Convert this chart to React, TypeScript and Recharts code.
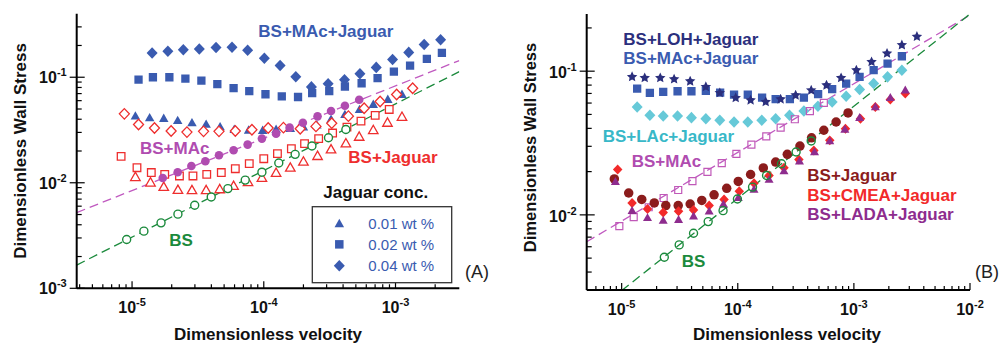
import React from 'react';
import { ComposedChart, Scatter, Line, XAxis, YAxis, Legend } from 'recharts';

type Pt = [number, number];

// ---------- Panel A data ----------
const aJag01: Pt[] = [[1.06e-5,0.0435],[1.36e-5,0.0419],[1.74e-5,0.0413],[2.22e-5,0.0395],[2.85e-5,0.0376],[3.65e-5,0.0363],[4.66e-5,0.0344],[5.97e-5,0.0325],[7.67e-5,0.032],[9.8e-5,0.0318],[1.24e-4,0.0325],[1.59e-4,0.0332],[2.0e-4,0.0342],[2.53e-4,0.0357],[3.24e-4,0.0405],[4.13e-4,0.045],[5.33e-4,0.0502],[6.78e-4,0.0561],[8.74e-4,0.0625],[1.12e-3,0.0697]];
const aJag02: Pt[] = [[1.12e-5,0.095],[1.44e-5,0.1],[1.92e-5,0.1],[2.54e-5,0.097],[3.36e-5,0.093],[4.44e-5,0.086],[5.9e-5,0.079],[7.76e-5,0.074],[1.03e-4,0.069],[1.37e-4,0.066],[1.82e-4,0.065],[2.33e-4,0.0706],[3.14e-4,0.074],[4.13e-4,0.0817],[5.53e-4,0.0877],[7.31e-4,0.098],[9.72e-4,0.113],[1.29e-3,0.129],[1.73e-3,0.149],[2.25e-3,0.17]];
const aJag04: Pt[] = [[1.42e-5,0.17],[1.87e-5,0.176],[2.45e-5,0.182],[3.24e-5,0.185],[4.34e-5,0.191],[5.74e-5,0.192],[7.54e-5,0.18],[1.01e-4,0.151],[1.33e-4,0.129],[1.75e-4,0.101],[2.3e-4,0.081],[3.08e-4,0.0866],[4.1e-4,0.0945],[5.37e-4,0.108],[7.14e-4,0.124],[9.5e-4,0.147],[1.26e-3,0.172],[1.65e-3,0.204],[2.2e-3,0.227]];
const aBJ01: Pt[] = [[1.06e-5,0.0115],[1.38e-5,0.0102],[1.74e-5,0.00927],[2.23e-5,0.00868],[2.85e-5,0.00863],[3.65e-5,0.00863],[4.63e-5,0.00881],[5.9e-5,0.00947],[7.59e-5,0.0103],[9.68e-5,0.0113],[1.24e-4,0.0126],[1.59e-4,0.0141],[2.0e-4,0.0161],[2.56e-4,0.0182],[3.24e-4,0.021],[4.2e-4,0.024],[5.3e-4,0.0277],[6.78e-4,0.032],[8.69e-4,0.0376],[1.12e-3,0.0428]];
const aBJ02: Pt[] = [[8.26e-6,0.0178],[1.09e-5,0.0139],[1.4e-5,0.0125],[1.77e-5,0.012],[2.29e-5,0.0116],[2.9e-5,0.0116],[3.69e-5,0.012],[4.76e-5,0.0125],[6.08e-5,0.0136],[7.76e-5,0.0152],[1.0e-4,0.0169],[1.27e-4,0.0189],[1.62e-4,0.021],[2.04e-4,0.0235],[2.61e-4,0.0262],[3.33e-4,0.0296],[4.28e-4,0.0337],[5.47e-4,0.0384],[7.01e-4,0.0435],[8.96e-4,0.0495]];
const aBJ04: Pt[] = [[8.74e-6,0.045],[1.12e-5,0.0357],[1.48e-5,0.033],[1.98e-5,0.0309],[2.61e-5,0.0302],[3.49e-5,0.0307],[4.57e-5,0.0307],[6.08e-5,0.0309],[8.13e-5,0.0318],[1.08e-4,0.033],[1.41e-4,0.0333],[1.89e-4,0.0325],[2.49e-4,0.0342],[3.28e-4,0.0367],[4.39e-4,0.0428],[5.78e-4,0.0509],[7.64e-4,0.0589],[1.02e-3,0.0686],[1.35e-3,0.0787]];
const aMAc: Pt[] = [[1.71e-5,0.0111],[2.22e-5,0.0126],[2.82e-5,0.0144],[3.6e-5,0.016],[4.57e-5,0.0182],[5.9e-5,0.0203],[7.54e-5,0.023],[9.68e-5,0.0262],[1.24e-4,0.0292],[1.57e-4,0.0333],[1.98e-4,0.0371],[2.56e-4,0.0426],[3.24e-4,0.0478],[4.13e-4,0.0537],[5.3e-4,0.0611]];
const aBS: Pt[] = [[9.1e-6,0.0029],[1.23e-5,0.00348],[1.66e-5,0.00417],[2.23e-5,0.00504],[2.99e-5,0.00612],[3.99e-5,0.00734],[5.34e-5,0.00881],[7.23e-5,0.0106],[9.68e-5,0.0126],[1.3e-4,0.0154],[1.73e-4,0.0186],[2.32e-4,0.0223],[3.1e-4,0.0267],[4.2e-4,0.032]];
const aFitBS: Pt[] = [[3.8e-6,1.66e-3],[3.05e-3,0.113]];
const aFitMAc: Pt[] = [[3.8e-6,5.22e-3],[3.05e-3,0.144]];

// ---------- Panel B data ----------
const bLOH: Pt[] = [[1.23e-5,0.0913],[1.58e-5,0.0898],[2.15e-5,0.0898],[2.83e-5,0.088],[3.89e-5,0.0851],[5.31e-5,0.0778],[7.0e-5,0.0706],[9.6e-5,0.0652],[1.29e-4,0.0628],[1.74e-4,0.0611],[2.34e-4,0.0638],[3.15e-4,0.068],[4.29e-4,0.0736],[5.81e-4,0.0798],[7.76e-4,0.0898],[1.05e-3,0.1016],[1.42e-3,0.116],[1.93e-3,0.133],[2.59e-3,0.152],[3.49e-3,0.174]];
const bMAcJ: Pt[] = [[1.36e-5,0.0757],[1.75e-5,0.0706],[2.28e-5,0.0718],[3.03e-5,0.0725],[3.99e-5,0.0725],[5.31e-5,0.0729],[7.05e-5,0.071],[9.29e-5,0.0687],[1.22e-4,0.0687],[1.62e-4,0.0655],[2.12e-4,0.0638],[2.81e-4,0.0638],[3.71e-4,0.0655],[4.92e-4,0.0692],[6.5e-4,0.0749],[8.58e-4,0.082],[1.12e-3,0.0913],[1.48e-3,0.1016],[1.95e-3,0.113],[2.59e-3,0.127]];
const bLAc: Pt[] = [[1.36e-5,0.0564],[1.75e-5,0.0493],[2.28e-5,0.0488],[3.03e-5,0.0488],[3.99e-5,0.0475],[5.31e-5,0.0467],[7.0e-5,0.0455],[9.29e-5,0.0443],[1.22e-4,0.0443],[1.61e-4,0.0455],[2.12e-4,0.0467],[2.79e-4,0.0493],[3.71e-4,0.0528],[4.9e-4,0.057],[6.5e-4,0.0611],[8.58e-4,0.067],[1.12e-3,0.0745],[1.48e-3,0.082],[1.95e-3,0.0913],[2.59e-3,0.1016]];
const bMAc: Pt[] = [[9.55e-6,0.00834],[1.27e-5,0.00964],[1.71e-5,0.0113],[2.3e-5,0.0131],[3.07e-5,0.0149],[4.07e-5,0.0172],[5.48e-5,0.0199],[7.28e-5,0.0229],[9.73e-5,0.0266],[1.31e-4,0.0308],[1.76e-4,0.0352],[2.34e-4,0.0405],[3.1e-4,0.0463],[4.18e-4,0.0528],[5.51e-4,0.0601]];
const bJag: Pt[] = [[8.65e-6,0.0178],[1.15e-5,0.0142],[1.49e-5,0.0128],[1.91e-5,0.0121],[2.4e-5,0.0116],[3.07e-5,0.0116],[3.89e-5,0.0119],[4.9e-5,0.0126],[6.25e-5,0.0138],[8.03e-5,0.0153],[1.01e-4,0.0171],[1.29e-4,0.0191],[1.66e-4,0.0212],[2.12e-4,0.0233],[2.67e-4,0.0264],[3.43e-4,0.0301],[4.32e-4,0.0344],[5.51e-4,0.0388],[7.03e-4,0.0443],[8.91e-4,0.0512]];
const bCMEA: Pt[] = [[9.24e-6,0.0207],[1.23e-5,0.0121],[1.67e-5,0.011],[2.28e-5,0.0104],[3.09e-5,0.0106],[4.16e-5,0.0108],[5.67e-5,0.0116],[7.62e-5,0.0128],[1.03e-4,0.0146],[1.38e-4,0.0166],[1.86e-4,0.0188],[2.5e-4,0.0213],[3.36e-4,0.0243],[4.52e-4,0.0281],[6.2e-4,0.033],[8.46e-4,0.0398],[1.14e-3,0.0467],[1.53e-3,0.0564],[2.06e-3,0.0634],[2.77e-3,0.0698]];
const bLADA: Pt[] = [[8.83e-6,0.0172],[1.23e-5,0.0108],[1.67e-5,0.00964],[2.28e-5,0.00923],[3.09e-5,0.00937],[4.16e-5,0.00989],[5.67e-5,0.0107],[7.52e-5,0.012],[1.01e-4,0.0133],[1.38e-4,0.0152],[1.86e-4,0.0178],[2.5e-4,0.0204],[3.4e-4,0.0239],[4.58e-4,0.0277],[6.2e-4,0.033],[8.36e-4,0.0398],[1.12e-3,0.048],[1.53e-3,0.057],[2.06e-3,0.0662],[2.77e-3,0.0745]];
const bBS: Pt[] = [[2.33e-5,0.00507],[3.13e-5,0.00618],[4.16e-5,0.00745],[5.56e-5,0.00898],[7.47e-5,0.0107],[9.93e-5,0.0129],[1.34e-4,0.0156],[1.77e-4,0.0188],[2.38e-4,0.0227],[3.18e-4,0.0274],[4.29e-4,0.0327]];
const bFitBS: Pt[] = [[1e-5,2.97e-3],[1e-2,0.25]];
const bFitMAc: Pt[] = [[5e-6,6.5e-3],[1e-2,0.246]];

// ---------- axes ----------
const aXMajor = [1e-5, 1e-4, 1e-3];
const aYMajor = [1e-3, 1e-2, 1e-1];
const bXMajor = [1e-5, 1e-4, 1e-3, 1e-2];
const bYMajor = [1e-2, 1e-1];
const minorMult = [2, 3, 4, 5, 6, 7, 8, 9];
const aXDomain: [number, number] = [3.8e-6, 3.05e-3];
const aYDomain: [number, number] = [1e-3, 0.4];
const bXDomain: [number, number] = [5e-6, 1e-2];
const bYDomain: [number, number] = [3e-3, 0.25];

const buildTicks = (majors: number[], dom: [number, number]) => {
  const out: number[] = [];
  const lo = Math.floor(Math.log10(dom[0]));
  const hi = Math.ceil(Math.log10(dom[1]));
  for (let e = lo; e <= hi; e++) {
    const base = Math.pow(10, e);
    if (majors.includes(Number(base.toPrecision(6)))) out.push(Number(base.toPrecision(6)));
    minorMult.forEach((m) => {
      const v = Number((m * base).toPrecision(6));
      if (v > dom[0] * 1.02 && v < dom[1] * 0.98) out.push(v);
    });
  }
  return out.sort((a, b) => a - b);
};

const FONT = '"Liberation Sans", Arial, Helvetica, sans-serif';
const blueA = '#3a5bb0';
const redA = '#ee2e2e';
const purpleA = '#b04cb0';
const greenA = '#1b8a3c';
const navyB = '#2b2f7d';
const cyanB = '#66c9d8';
const cyanText = '#38b8c8';
const darkRed = '#8b1c1c';
const redB = '#f22a2a';
const ladaPurple = '#8e2c8e';
const dashPurple = '#c05ac0';
const openPurple = '#c058b8';

const isMajor = (v: number) => Math.abs(Math.log10(v) - Math.round(Math.log10(v))) < 1e-6;

const makeXTick = (baseline: number) => (props: any) => {
  const { x, y, payload } = props;
  const v = payload.value;
  const major = isMajor(v);
  const e = Math.round(Math.log10(v));
  return (
    <g>
      <line x1={x} x2={x} y1={y} y2={y - (major ? 7 : 4)} stroke="#000" strokeWidth={1.2} />
      {major && (
        <text x={x} y={y + baseline} textAnchor="middle" fontFamily={FONT} fontWeight="bold" fontSize={16} fill="#111">
          <tspan>10</tspan>
          <tspan dy={-7} fontSize={11}>{String(e)}</tspan>
        </text>
      )}
    </g>
  );
};

const makeYTick = (baseline: number) => (props: any) => {
  const { x, y, payload } = props;
  const v = payload.value;
  const major = isMajor(v);
  const e = Math.round(Math.log10(v));
  return (
    <g>
      <line x1={major ? x - 7 : x} x2={x + (major ? 8 : 5)} y1={y} y2={y} stroke="#000" strokeWidth={1.2} />
      {major && (
        <text x={x - 10} y={y + baseline} textAnchor="end" fontFamily={FONT} fontWeight="bold" fontSize={16} fill="#111">
          <tspan>10</tspan>
          <tspan dy={-7} fontSize={11}>{String(e)}</tspan>
        </text>
      )}
    </g>
  );
};

type Kind = 'circle' | 'square' | 'diamond' | 'triangle' | 'star';
const markerPath = (kind: Kind, cx: number, cy: number, size: number) => {
  const r = size / 2;
  if (kind === 'square') return `M${cx - r},${cy - r}h${size}v${size}h${-size}Z`;
  if (kind === 'diamond') return `M${cx},${cy - r * 1.05}L${cx + r},${cy}L${cx},${cy + r * 1.05}L${cx - r},${cy}Z`;
  if (kind === 'triangle') {
    const h = size * 0.88;
    return `M${cx},${cy - h / 2}L${cx + r},${cy + h / 2}L${cx - r},${cy + h / 2}Z`;
  }
  // star
  let d = '';
  for (let i = 0; i < 10; i++) {
    const ang = -Math.PI / 2 + (i * Math.PI) / 5;
    const rad = i % 2 === 0 ? r : r * 0.48;
    d += `${i === 0 ? 'M' : 'L'}${cx + rad * Math.cos(ang)},${cy + rad * Math.sin(ang)}`;
  }
  return d + 'Z';
};

const mk = (kind: Kind, size: number, fill: string, stroke: string, sw = 0) => (p: any) => {
  const { cx, cy } = p;
  if (cx == null || cy == null || isNaN(cx) || isNaN(cy)) return <g />;
  if (kind === 'circle')
    return <circle cx={cx} cy={cy} r={size / 2} fill={fill} stroke={stroke} strokeWidth={sw} />;
  return <path d={markerPath(kind, cx, cy, size)} fill={fill} stroke={stroke} strokeWidth={sw} strokeLinejoin="miter" />;
};

const toObj = (arr: Pt[]) => arr.map(([x, y]) => ({ x, y }));

const axisLine = { stroke: '#000', strokeWidth: 2 };

const JaguarLegend = () => (
  <svg width={150} height={104} style={{ display: 'block', overflow: 'visible' }}>
    <text x={13.3} y={15} fontFamily={FONT} fontWeight="bold" fontSize={17} fill="#111">Jaguar conc.</text>
    <rect x={2.3} y={23.7} width={139.4} height={76} fill="#fff" stroke="#333" strokeWidth={1.3} />
    {[
      { k: 'triangle' as Kind, s: 9.5, label: '0.01 wt %' },
      { k: 'square' as Kind, s: 8.5, label: '0.02 wt %' },
      { k: 'diamond' as Kind, s: 11, label: '0.04 wt %' },
    ].map((it, i) => {
      const cy = 40 + i * 21.35;
      return (
        <g key={it.label}>
          <path d={markerPath(it.k, 29.3, cy, it.s)} fill={blueA} />
          <text x={58.3} y={cy + 5.5} fontFamily={FONT} fontSize={15} fill={blueA}>{it.label}</text>
        </g>
      );
    })}
  </svg>
);

const PanelA = () => {
  const xt = buildTicks(aXMajor, aXDomain);
  const yt = buildTicks(aYMajor, aYDomain);
  return (
    <ComposedChart width={500} height={344} margin={{ top: 13.7, right: 40.7, bottom: 0, left: 0 }}>
      <XAxis dataKey="x" type="number" scale="log" domain={aXDomain} allowDataOverflow ticks={xt} interval={0}
        tick={makeXTick(25)} tickLine={false} tickSize={0} tickMargin={0} axisLine={axisLine} height={55.7} />
      <XAxis xAxisId="top" orientation="top" dataKey="x" type="number" scale="log" domain={aXDomain} allowDataOverflow
        tick={false} tickLine={false} axisLine={axisLine} height={0} />
      <YAxis dataKey="y" type="number" scale="log" domain={aYDomain} allowDataOverflow ticks={yt} interval={0}
        tick={makeYTick(6)} tickLine={false} tickSize={0} tickMargin={0} axisLine={axisLine} width={76.7} />
      <YAxis yAxisId="right" orientation="right" dataKey="y" type="number" scale="log" domain={aYDomain} allowDataOverflow
        tick={false} tickLine={false} axisLine={axisLine} width={0} />
      <Line data={toObj(aFitMAc)} dataKey="y" type="linear" dot={false} activeDot={false} stroke={dashPurple} strokeWidth={1.3} strokeDasharray="9 5" isAnimationActive={false} />
      <Line data={toObj(aFitBS)} dataKey="y" type="linear" dot={false} activeDot={false} stroke={greenA} strokeWidth={1.3} strokeDasharray="9 5" isAnimationActive={false} />
      <Scatter data={toObj(aJag04)} shape={mk('diamond', 11, blueA, blueA)} isAnimationActive={false} />
      <Scatter data={toObj(aJag02)} shape={mk('square', 8.3, blueA, blueA)} isAnimationActive={false} />
      <Scatter data={toObj(aJag01)} shape={mk('triangle', 9.5, blueA, blueA)} isAnimationActive={false} />
      <Scatter data={toObj(aBJ04)} shape={mk('diamond', 10, '#fff', redA, 1.3)} isAnimationActive={false} />
      <Scatter data={toObj(aBJ02)} shape={mk('square', 7.6, '#fff', redA, 1.3)} isAnimationActive={false} />
      <Scatter data={toObj(aBJ01)} shape={mk('triangle', 9.5, '#fff', redA, 1.3)} isAnimationActive={false} />
      <Scatter data={toObj(aMAc)} shape={mk('circle', 8.6, purpleA, purpleA)} isAnimationActive={false} />
      <Scatter data={toObj(aBS)} shape={mk('circle', 8, '#fff', greenA, 1.4)} isAnimationActive={false} />
      <Legend layout="vertical" align="center" verticalAlign="middle" content={() => <JaguarLegend />}
        wrapperStyle={{ left: 310, top: 183, width: 150, height: 104 }} />
    </ComposedChart>
  );
};

const PanelB = () => {
  const xt = buildTicks(bXMajor, bXDomain);
  const yt = buildTicks(bYMajor, bYDomain);
  return (
    <ComposedChart width={502} height={344} margin={{ top: 14, right: 32, bottom: 0, left: 0 }}>
      <XAxis dataKey="x" type="number" scale="log" domain={bXDomain} allowDataOverflow ticks={xt} interval={0}
        tick={makeXTick(25)} tickLine={false} tickSize={0} tickMargin={0} axisLine={axisLine} height={54} />
      <XAxis xAxisId="top" orientation="top" dataKey="x" type="number" scale="log" domain={bXDomain} allowDataOverflow
        tick={false} tickLine={false} axisLine={axisLine} height={0} />
      <YAxis dataKey="y" type="number" scale="log" domain={bYDomain} allowDataOverflow ticks={yt} interval={0}
        tick={makeYTick(7)} tickLine={false} tickSize={0} tickMargin={0} axisLine={axisLine} width={86.7} />
      <YAxis yAxisId="right" orientation="right" dataKey="y" type="number" scale="log" domain={bYDomain} allowDataOverflow
        tick={false} tickLine={false} axisLine={axisLine} width={0} />
      <Scatter data={toObj(bLAc)} shape={mk('diamond', 11, cyanB, cyanB)} isAnimationActive={false} />
      <Scatter data={toObj(bMAcJ)} shape={mk('square', 8.3, blueA, blueA)} isAnimationActive={false} />
      <Scatter data={toObj(bLOH)} shape={mk('star', 11, navyB, navyB)} isAnimationActive={false} />
      <Scatter data={toObj(bMAc)} shape={mk('square', 7, 'none', openPurple, 1.2)} isAnimationActive={false} />
      <Scatter data={toObj(bJag)} shape={mk('circle', 9.5, darkRed, darkRed)} isAnimationActive={false} />
      <Scatter data={toObj(bCMEA)} shape={mk('diamond', 9.5, redB, redB)} isAnimationActive={false} />
      <Scatter data={toObj(bLADA)} shape={mk('triangle', 9, ladaPurple, ladaPurple)} isAnimationActive={false} />
      <Scatter data={toObj(bBS)} shape={mk('circle', 8, 'none', greenA, 1.4)} isAnimationActive={false} />
      <Line data={toObj(bFitMAc)} dataKey="y" type="linear" dot={false} activeDot={false} stroke={dashPurple} strokeWidth={1.3} strokeDasharray="9 5" isAnimationActive={false} />
      <Line data={toObj(bFitBS)} dataKey="y" type="linear" dot={false} activeDot={false} stroke={greenA} strokeWidth={1.3} strokeDasharray="9 5" isAnimationActive={false} />
    </ComposedChart>
  );
};

const T = (p: { x: number; y: number; c: string; s?: number; w?: string; a?: string; children: React.ReactNode }) => (
  <text x={p.x} y={p.y} fill={p.c} fontFamily={FONT} fontWeight={p.w ?? 'bold'} fontSize={p.s ?? 17} textAnchor={(p.a as any) ?? 'start'}>
    {p.children}
  </text>
);

export default function App() {
  return (
    <div style={{ position: 'absolute', left: 0, top: 0, width: 1002, height: 344, background: '#fff', overflow: 'hidden' }}>
      <div style={{ position: 'absolute', left: 0, top: 0 }}>
        <PanelA />
      </div>
      <div style={{ position: 'absolute', left: 500, top: 0 }}>
        <PanelB />
      </div>
      <svg width={1002} height={344} style={{ position: 'absolute', left: 0, top: 0, pointerEvents: 'none' }}>
        {/* Panel A annotations */}
        <T x={258.3} y={37.3} c={blueA}>BS+MAc+Jaguar</T>
        <T x={140} y={154} c={purpleA}>BS+MAc</T>
        <T x={348.3} y={163} c={redA}>BS+Jaguar</T>
        <T x={169.3} y={245.7} c={greenA}>BS</T>
        <T x={465} y={278} c="#222" s={18} w="normal">(A)</T>
        <text transform="translate(26,151) rotate(-90)" textAnchor="middle" fontFamily={FONT} fontWeight="bold" fontSize={17} fill="#111">Dimensionless Wall Stress</text>
        <T x={268} y={339.5} c="#111" a="middle">Dimensionless velocity</T>
        {/* Panel B annotations */}
        <T x={623.3} y={45} c={navyB}>BS+LOH+Jaguar</T>
        <T x={623.3} y={64} c={blueA}>BS+MAc+Jaguar</T>
        <T x={602.7} y={142} c={cyanText}>BS+LAc+Jaguar</T>
        <T x={631.7} y={167} c={purpleA}>BS+MAc</T>
        <T x={807.3} y={181} c={darkRed}>BS+Jaguar</T>
        <T x={807.3} y={201} c={redB}>BS+CMEA+Jaguar</T>
        <T x={807.3} y={220} c={ladaPurple}>BS+LADA+Jaguar</T>
        <T x={681.7} y={267} c={greenA}>BS</T>
        <T x={975} y={278} c="#222" s={18} w="normal">(B)</T>
        <text transform="translate(536,147.5) rotate(-90)" textAnchor="middle" fontFamily={FONT} fontWeight="bold" fontSize={16.5} fill="#111">Dimensionless Wall Stress</text>
        <T x={787} y={339.5} c="#111" a="middle">Dimensionless velocity</T>
      </svg>
    </div>
  );
}
